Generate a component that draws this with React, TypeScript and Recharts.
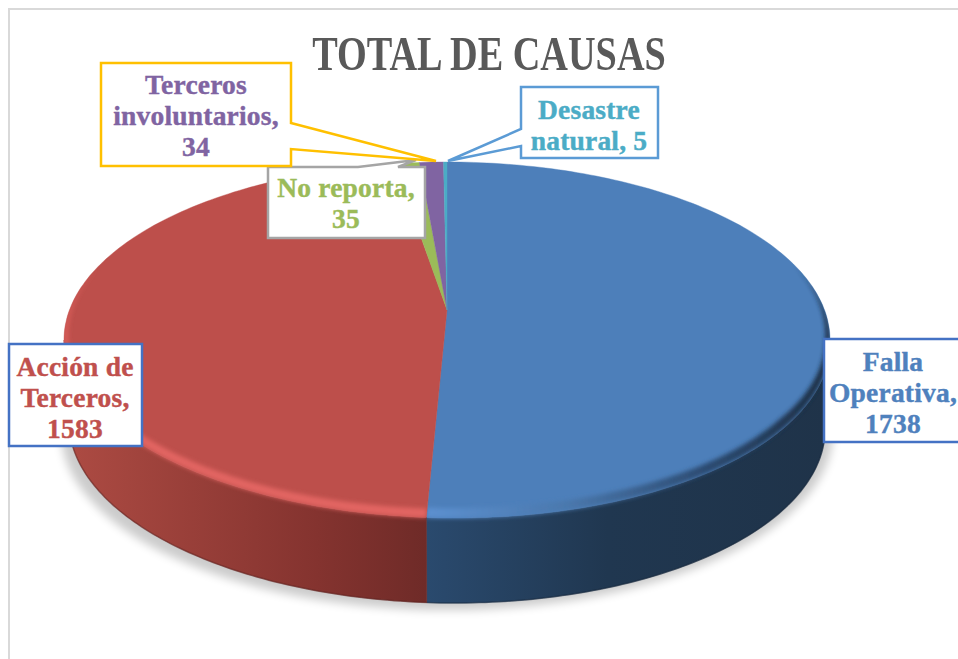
import React from 'react';
import { PieChart, Pie } from 'recharts';

const causes = ['Falla Operativa', 'Acción de Terceros', 'No reporta', 'Terceros involuntarios', 'Desastre natural'];
const counts = [1738, 1583, 35, 34, 5];
const fills = ['#4d7fba', '#bd4f4b', '#9bbb59', '#8064a2', '#4bacc6'];
const textColors = ['#4f81bd', '#c0504d', '#9bbb59', '#8064a2', '#4bacc6'];
const borderColors = ['#4472c4', '#4472c4', '#a5a5a5', '#ffc000', '#5b9bd5'];

// {v} is replaced with the count
const labelLines = [
  ['Falla', 'Operativa,', '{v}'],
  ['Acción de', 'Terceros,', '{v}'],
  ['No reporta,', '{v}'],
  ['Terceros', 'involuntarios,', '{v}'],
  ['Desastre', 'natural, {v}'],
];

// callout outlines and text anchors, in page pixels
const calloutPaths = [
  'M824 339 H970 V442 H824 Z',
  'M9 344 H142 V446 H9 Z',
  'M268 167 H358 L416 160 L398 167 H425 V238 H268 Z',
  'M101 63 H291 V123 L436 161 L291 149 V166 H101 Z',
  'M521 87 H658 V158 H521 V146 L448 161 L521 129 Z',
];
const calloutCenters = [893, 75, 346, 196, 589];
const firstBaselines = [371, 376, 197, 94, 119];

const data = causes.map((name, i) => ({ name, value: counts[i], fill: fills[i] }));

const CX = 447;
const CY = 340;
const RX = 383;
const SQUASH = 178 / 383;
const APEX_Y = 310;
const DEPTH = 85;
const LOWER_RX = 378;
const LEAN = 8 / 178; // the near half of the disc leans a little to the right

const rad = (a: number) => (a * Math.PI) / 180;

function point(a: number, r: number, rx: number, dy: number) {
  const ry = r * SQUASH;
  const yOff = -ry * Math.sin(rad(a));
  const x = CX + (rx / RX) * r * Math.cos(rad(a)) + (yOff > 0 ? yOff * LEAN : 0);
  return [x, CY + dy + yOff];
}

function arc(from: number, to: number, r: number, rx: number, dy: number) {
  const steps = Math.max(2, Math.ceil(Math.abs(to - from)));
  const pts: string[] = [];
  for (let i = 0; i <= steps; i++) {
    const [x, y] = point(from + ((to - from) * i) / steps, r, rx, dy);
    pts.push(`${x.toFixed(1)} ${y.toFixed(1)}`);
  }
  return pts;
}

// bevel band: full width along the near edge, tapering to nothing above the widest point
function bevel(from: number, to: number, r: number, width: number) {
  const steps = Math.max(2, Math.ceil(Math.abs(to - from)));
  const outer: string[] = [];
  const inner: string[] = [];
  for (let i = 0; i <= steps; i++) {
    const a = from + ((to - from) * i) / steps;
    const [x, y] = point(a, r, RX, 0);
    const w = width * Math.min(1, Math.max(0, (0.42 - Math.sin(rad(a))) / 0.9));
    outer.push(`${x.toFixed(1)} ${y.toFixed(1)}`);
    inner.unshift(`${(x - w * Math.cos(rad(a))).toFixed(1)} ${(y + w * Math.sin(rad(a))).toFixed(1)}`);
  }
  return `M${outer.join(' L')} L${inner.join(' L')} Z`;
}

const sideStops = [
  [['0%', '#1f3349'], ['55%', '#203750'], ['100%', '#2a4a6e']],
  [['0%', '#ad4b43'], ['70%', '#84332f'], ['100%', '#6f2b28']],
];
const rimStops = [
  [['0%', '#5c90d0'], ['35%', '#4a78ad'], ['70%', '#2b4a70'], ['100%', '#1b2d42']],
  [['0%', '#e26562'], ['75%', '#e26562'], ['100%', '#dc5e5a']],
];
const rimWidths = [10, 9];

function Slice(props: any, idx?: number) {
  const { startAngle, endAngle, outerRadius, fill } = props;
  const index = idx ?? causes.indexOf(props.name);
  const top = arc(startAngle, endAngle, outerRadius, RX, 0);
  const face = `M${CX} ${APEX_Y} L${top.join(' L')} Z`;

  // only the near half of the rim is visible
  const sideFrom = Math.min(startAngle, 0);
  const sideTo = Math.max(endAngle, -180);
  const hasSide = sideFrom > sideTo;
  const upper = hasSide ? arc(sideFrom, sideTo, outerRadius, RX, 0) : [];
  const lower = hasSide ? arc(sideTo, sideFrom, outerRadius, LOWER_RX, DEPTH) : [];
  const sidePath = `M${upper.join(' L')} L${lower.join(' L')} Z`;
  const rimFrom = Math.min(startAngle, 25);
  const rimTo = Math.max(endAngle, -205);

  return (
    <g>
      {index === 0 && (
        <>
          <defs>
            <filter id="shadowBlur" x="-10%" y="-10%" width="120%" height="120%">
              <feGaussianBlur stdDeviation="5" />
            </filter>
            <filter id="rimBlur" x="-10%" y="-10%" width="120%" height="120%">
              <feGaussianBlur stdDeviation="2.2" />
            </filter>
          </defs>
          <ellipse cx={CX} cy={CY + 92} rx={386} ry={178} fill="#000" opacity={0.2} filter="url(#shadowBlur)" />
        </>
      )}
      {hasSide && (
        <>
          <defs>
            <linearGradient id={`side${index}`} gradientUnits="userSpaceOnUse" x1={index === 0 ? 830 : 65} x2={426} y1="0" y2="0">
              {sideStops[index].map(([o, c]) => (
                <stop key={o} offset={o} stopColor={c} />
              ))}
            </linearGradient>
            <linearGradient id={`rim${index}`} gradientUnits="userSpaceOnUse" x1={426} x2={index === 0 ? 830 : 65} y1="0" y2="0">
              {rimStops[index].map(([o, c]) => (
                <stop key={o} offset={o} stopColor={c} />
              ))}
            </linearGradient>
            <clipPath id={`disc${index}`}>
              <path d={face} />
              <path d={sidePath} />
            </clipPath>
          </defs>
          <path d={sidePath} fill={`url(#side${index})`} stroke={`url(#side${index})`} strokeWidth={0.6} />
          <path
            d={`M${arc(sideFrom, sideTo, outerRadius, LOWER_RX, DEPTH).join(' L')}`}
            fill="none"
            stroke={index === 0 ? '#16263a' : '#5a1f1d'}
            strokeWidth={1.5}
            opacity={0.5}
          />
        </>
      )}
      <path d={face} fill={fill} stroke={fill} strokeWidth={0.4} />
      {hasSide && (
        <g clipPath={`url(#disc${index})`}>
          <path d={bevel(rimFrom, rimTo, outerRadius, rimWidths[index])} fill={`url(#rim${index})`} filter="url(#rimBlur)" />
        </g>
      )}
    </g>
  );
}

function Callout(props: any) {
  const { index, value } = props;
  const lines = labelLines[index].map((l) => l.replace('{v}', String(value)));
  return (
    <g>
      <path d={calloutPaths[index]} fill="#fff" stroke={borderColors[index]} strokeWidth={2.5} />
      <text
        textAnchor="middle"
        fontFamily="'Liberation Serif', serif"
        fontWeight="bold"
        fontSize={27.5}
        letterSpacing={0.2}
        fill={textColors[index]}
        stroke={textColors[index]}
        strokeWidth={0.4}
      >
        {lines.map((l, i) => (
          <tspan key={i} x={calloutCenters[index]} y={firstBaselines[index] + i * 31}>
            {l}
          </tspan>
        ))}
      </text>
    </g>
  );
}

export default function App() {
  return (
    <div style={{ position: 'absolute', left: 0, top: 0, width: 958, height: 659, overflow: 'hidden', background: '#fff' }}>
      <div style={{ position: 'absolute', left: 8, top: 8, width: 950, height: 651, borderLeft: '2px solid #d9d9d9', borderTop: '2px solid #d9d9d9' }} />
      <div
        style={{
          position: 'absolute',
          left: 0,
          width: 978,
          top: 26,
          textAlign: 'center',
          fontFamily: "'Liberation Serif', serif",
          fontWeight: 'bold',
          fontSize: 48,
          lineHeight: '56px',
          color: '#595959',
          transform: 'scaleX(0.797)',
        }}
      >
        TOTAL DE CAUSAS
      </div>
      <div style={{ position: 'absolute', left: 0, top: 0 }}>
        <PieChart width={958} height={659} margin={{ top: 0, right: 0, bottom: 0, left: 0 }}>
          <Pie
            data={data}
            dataKey="value"
            nameKey="name"
            cx={CX}
            cy={CY}
            innerRadius={0}
            outerRadius={RX}
            startAngle={90}
            endAngle={-270}
            stroke="none"
            shape={Slice}
            label={Callout}
            labelLine={false}
            isAnimationActive={false}
          />
        </PieChart>
      </div>
    </div>
  );
}
